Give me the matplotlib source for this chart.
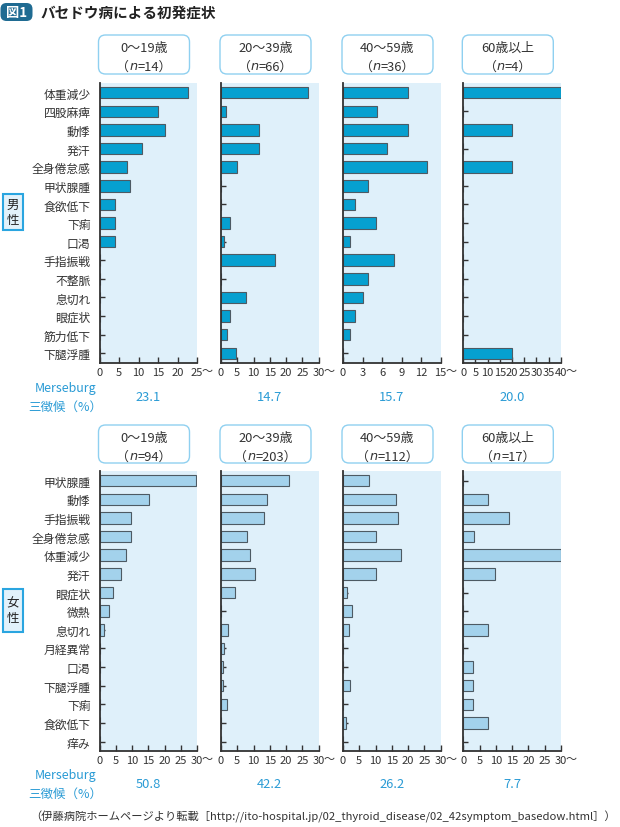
import matplotlib
matplotlib.use('Agg')
import matplotlib.pyplot as plt
from matplotlib.patches import FancyBboxPatch, Rectangle

plt.rcParams['font.family'] = ['Noto Sans CJK JP', 'DejaVu Sans']

# ---- data (%) ----
age_groups = ['0〜19歳', '20〜39歳', '40〜59歳', '60歳以上']

male_symptoms = ['体重減少', '四股麻痺', '動悸', '発汗', '全身倦怠感', '甲状腺腫', '食欲低下',
                 '下痢', '口渇', '手指振戦', '不整脈', '息切れ', '眼症状', '筋力低下', '下腿浮腫']
male_n = [14, 66, 36, 4]
male_0_19 = [22.7, 15.0, 16.9, 10.9, 7.0, 7.9, 4.1, 3.9, 3.9, 0, 0, 0, 0, 0, 0]
male_20_39 = [26.7, 1.6, 11.6, 11.6, 4.8, 0, 0, 2.7, 0.8, 16.5, 0, 7.6, 2.7, 1.8, 4.5]
male_40_59 = [10.0, 5.2, 10.0, 6.8, 12.9, 3.8, 1.9, 5.0, 1.0, 7.9, 3.9, 3.0, 1.9, 1.0, 0]
male_60 = [40, 0, 20, 0, 20, 0, 0, 0, 0, 0, 0, 0, 0, 0, 20]
male_merseburg = ['23.1', '14.7', '15.7', '20.0']
male_xmax = [25, 30, 15, 40]
male_xstep = [5, 5, 3, 5]

female_symptoms = ['甲状腺腫', '動悸', '手指振戦', '全身倦怠感', '体重減少', '発汗', '眼症状', '微熱',
                   '息切れ', '月経異常', '口渇', '下腿浮腫', '下痢', '食欲低下', '痒み']
female_n = [94, 203, 112, 17]
female_0_19 = [29.7, 15.3, 9.6, 9.6, 8.1, 6.6, 4.0, 3.0, 1.4, 0, 0, 0, 0, 0, 0]
female_20_39 = [20.8, 14.2, 13.2, 8.0, 9.0, 10.6, 4.3, 0, 2.3, 1.0, 0.6, 0.6, 1.8, 0, 0]
female_40_59 = [8.0, 16.2, 17.0, 10.1, 17.8, 10.1, 1.1, 2.9, 1.7, 0, 0, 2.3, 0, 0.8, 0]
female_60 = [0, 7.7, 14.0, 3.3, 30, 9.6, 0, 0, 7.7, 0, 3.0, 3.0, 3.0, 7.6, 0]
female_merseburg = ['50.8', '42.2', '26.2', '7.7']
female_xmax = [30, 30, 30, 30]
female_xstep = [5, 5, 5, 5]

W, H = 620, 828
fig = plt.figure(figsize=(W / 100, H / 100), dpi=100)
fig.patch.set_facecolor('white')

BG = '#dff0fa'
BLUE_TXT = '#2a9bd5'
DARK = '#333333'
panel_left = [99.5, 221, 343, 463.3]
panel_w = 97.5

# overlay axes in pixel units for boxes / free text
ov = fig.add_axes([0, 0, 1, 1], zorder=5)
ov.set_xlim(0, W)
ov.set_ylim(H, 0)
ov.axis('off')


def mixed_text(cx, base_y, parts, size=9.3, color=DARK):
    r = fig.canvas.get_renderer()
    objs = [ov.text(0, base_y, s, ha='left', va='baseline', fontsize=size, color=color, **kw)
            for s, kw in parts]
    widths = [t.get_window_extent(r).width for t in objs]
    x = cx - sum(widths) / 2
    for t, w in zip(objs, widths):
        t.set_x(x)
        x += w


def draw_row(symptoms, series, n_list, merse, xmax, xstep, color, top, bottom,
             box_top, box_bot, sex, sex_top, sex_bot, merse_y):
    for i, vals in enumerate(series):
        ax = fig.add_axes([panel_left[i] / W, 1 - bottom / H, panel_w / W, (bottom - top) / H])
        ax.set_facecolor(BG)
        ax.barh(range(len(symptoms)), vals, height=0.62, color=color,
                edgecolor='#4d5a63', linewidth=0.8, zorder=2)
        ax.set_ylim(len(symptoms) - 0.48, -0.52)
        ax.set_xlim(0, xmax[i])
        ticks = list(range(0, xmax[i] + 1, xstep[i]))
        ax.set_xticks(ticks)
        ax.set_xticklabels([str(t) for t in ticks])
        ax.set_yticks(range(len(symptoms)))
        if i == 0:
            ax.set_yticklabels(symptoms, fontsize=8.5, color=DARK)
        else:
            ax.set_yticklabels([])
        for s in ['top', 'right']:
            ax.spines[s].set_visible(False)
        for s in ['left', 'bottom']:
            ax.spines[s].set_color(DARK)
            ax.spines[s].set_linewidth(1.3)
            ax.spines[s].set_zorder(3)
        ax.tick_params(axis='y', direction='in', length=3.5, width=1, color=DARK, pad=6.5)
        ax.tick_params(axis='x', direction='in', length=4, width=1, color=DARK,
                       labelsize=8, labelcolor=DARK, pad=2.6)
        ax.annotate('〜', xy=(1, 0), xycoords='axes fraction', xytext=(3.5, -2.2),
                    textcoords='offset points', ha='left', va='top', fontsize=8, color=DARK)

        # header box
        bx = panel_left[i] - 1
        ov.add_patch(FancyBboxPatch((bx, box_top), 91, box_bot - box_top,
                                    boxstyle='round,pad=0,rounding_size=7',
                                    fc='white', ec='#8fd0f0', lw=1.0))
        cx = bx + 45.5
        ov.text(cx, box_top + 12.5, age_groups[i], ha='center', va='center', fontsize=9.3, color=DARK)
        mixed_text(cx, box_top + 34.5, [('（', {}),
                                        ('n', {'family': 'DejaVu Sans', 'style': 'italic'}),
                                        ('=%d）' % n_list[i], {})])
        # merseburg value
        ov.text(panel_left[i] + panel_w / 2, merse_y + 8.5, merse[i], ha='center', va='center',
                fontsize=9.3, color=BLUE_TXT)

    ov.text(65.5, merse_y, 'Merseburg', ha='center', va='center', fontsize=9, color=BLUE_TXT)
    ov.text(65.5, merse_y + 18.5, '三徴候（%）', ha='center', va='center', fontsize=9, color=BLUE_TXT)

    ov.add_patch(Rectangle((3.3, sex_top), 19.3, sex_bot - sex_top, fc='#e2f2fb', ec='#2aa5e0', lw=1.5))
    ov.text(13, (sex_top + sex_bot) / 2, sex[0] + '\n' + sex[1], ha='center', va='center',
            fontsize=9, color='#222222', linespacing=1.15)


draw_row(male_symptoms, [male_0_19, male_20_39, male_40_59, male_60], male_n, male_merseburg,
         male_xmax, male_xstep, '#06a0d0', 84, 364, 36, 75, '男性', 195, 231, 389)
draw_row(female_symptoms, [female_0_19, female_20_39, female_40_59, female_60], female_n,
         female_merseburg, female_xmax, female_xstep, '#a3d2ec', 472, 752.3, 426, 464,
         '女性', 590, 633, 776)

# title
ov.add_patch(FancyBboxPatch((0.5, 4), 32, 18, boxstyle='round,pad=0,rounding_size=6',
                            fc='#1f6b92', ec='none'))
ov.text(16.5, 13, '図1', ha='center', va='center', fontsize=9.5, color='white', fontweight='bold')
ov.text(40, 13, 'バセドウ病による初発症状', ha='left', va='center', fontsize=10.5,
        color='#222222', fontweight='bold')

# source
ov.text(30, 816.5, '（伊藤病院ホームページより転載［http://ito-hospital.jp/02_thyroid_disease/'
        '02_42symptom_basedow.html］）', ha='left', va='center', fontsize=8.1, color=DARK)

fig.savefig('out.png', dpi=100)
